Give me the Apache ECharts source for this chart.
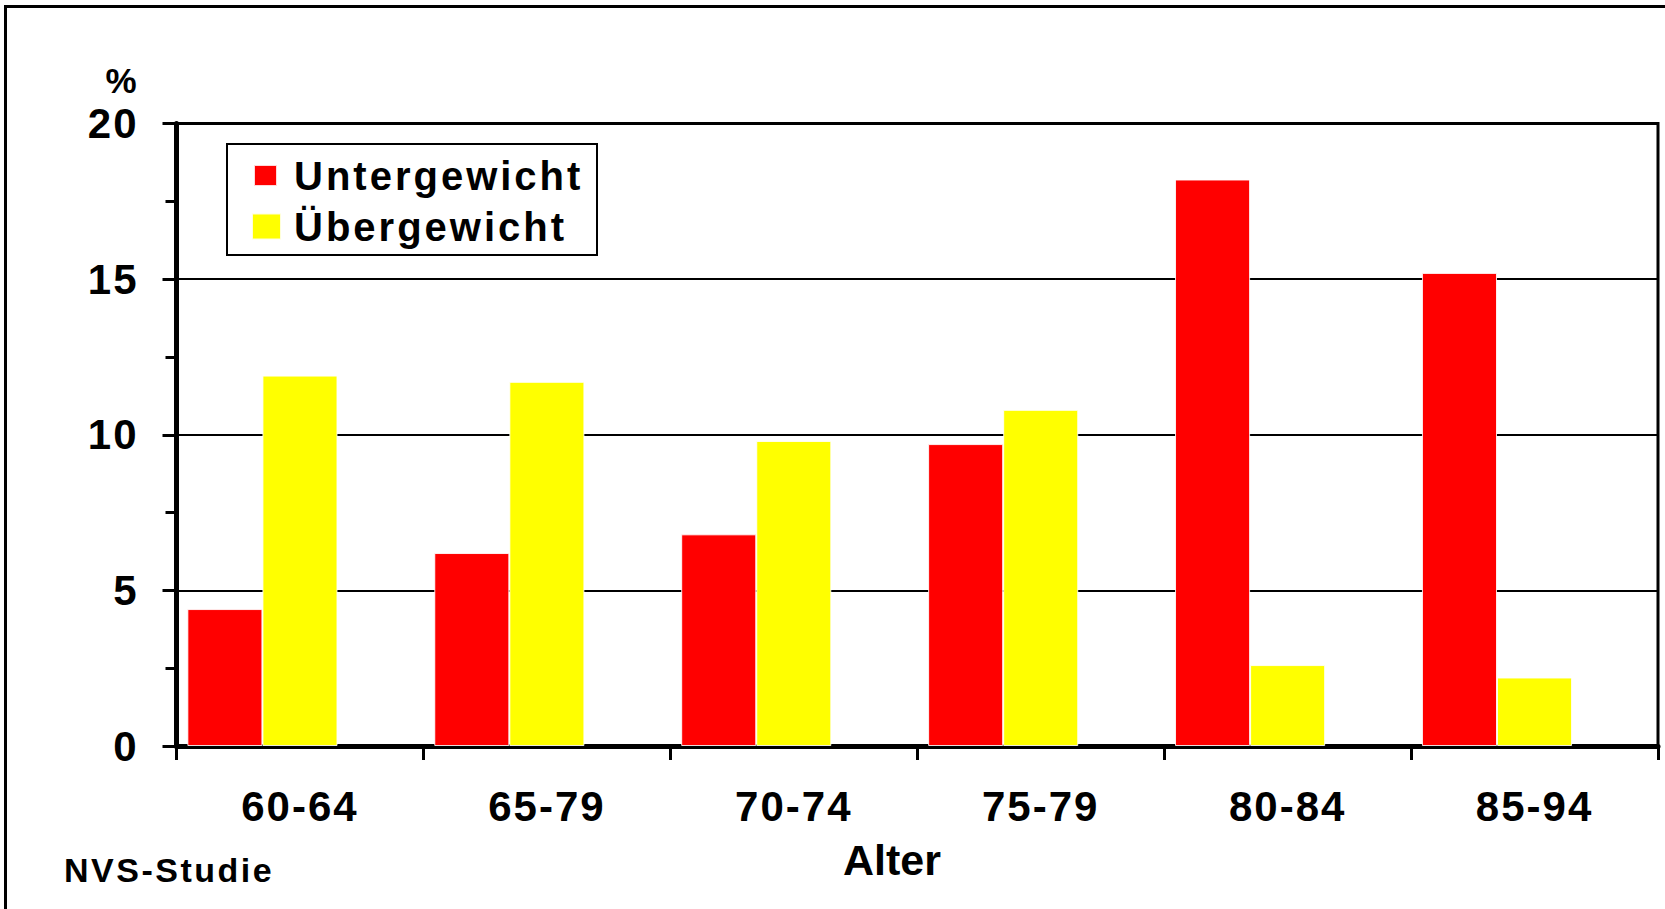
<!DOCTYPE html>
<html>
<head>
<meta charset="utf-8">
<script src="https://cdn.jsdelivr.net/npm/echarts@6/dist/echarts.min.js"></script>
<style>
  html, body { margin: 0; padding: 0; background: #fff; }
  #chart { width: 1665px; height: 909px; }
  /* slightly widened tracking for the bold labels (targeted by their font size) */
  #chart text[style*="42px"] { letter-spacing: 2px; }
  #chart text[style*="40px"] { letter-spacing: 3px; }
  #chart text[style*="34px"] { letter-spacing: 2.5px; }
</style>
</head>
<body>
<div id="chart"></div>
<script>
// Age groups and shares (%) of under- and overweight
const categories = ['60-64', '65-79', '70-74', '75-79', '80-84', '85-94'];
const untergewicht = [4.4, 6.2, 6.8, 9.7, 18.2, 15.2];
const uebergewicht = [11.9, 11.7, 9.8, 10.8, 2.6, 2.2];
// empty slot that keeps the bar pair on the left side of each group
const spacer = [null, null, null, null, null, null];

const yMin = 0, yMax = 20, yStep = 5;

const FONT = "'Liberation Sans', Arial, Helvetica, sans-serif";
const RED = '#FF0000';
const YELLOW = '#FFFF00';

const chart = echarts.init(document.getElementById('chart'), null, { renderer: 'svg' });

const barStyle = color => ({
  color: color,
  borderColor: 'rgba(255,255,255,0.85)',
  borderWidth: 1
});

chart.setOption({
  animation: false,
  backgroundColor: '#fff',
  grid: {
    left: 176.5, right: 7, top: 123.5, bottom: 163,
    show: true, borderColor: '#000', borderWidth: 3,
    containLabel: false, outerBoundsMode: 'none'
  },
  legend: {
    selectedMode: false,
    orient: 'vertical',
    left: 251, top: 155.5, padding: 0,
    itemWidth: 37, itemHeight: 26, itemGap: 11,
    textStyle: { fontFamily: FONT, fontSize: 40, fontWeight: 'bold', color: '#000' },
    data: [
      { name: 'Untergewicht', icon: 'path://M0,0M2,2.5L25,2.5L25,23.5L2,23.5ZM37,26' },
      { name: 'Übergewicht', icon: 'path://M0,0L29,0L29,26L0,26ZM37,26' }
    ]
  },
  xAxis: {
    type: 'category',
    data: categories,
    axisLine: { lineStyle: { color: '#000', width: 5 } },
    axisTick: { show: true, length: 14, lineStyle: { color: '#000', width: 3 } },
    axisLabel: { fontFamily: FONT, fontSize: 42, fontWeight: 'bold', color: '#000', margin: 39 },
    splitLine: { show: false }
  },
  yAxis: {
    type: 'value',
    min: yMin, max: yMax, interval: yStep,
    axisLine: { show: true, lineStyle: { color: '#000', width: 5 } },
    axisTick: { show: true, length: 14, lineStyle: { color: '#000', width: 3 } },
    minorTick: { show: true, splitNumber: 2, length: 11, lineStyle: { color: '#000', width: 3 } },
    axisLabel: { fontFamily: FONT, fontSize: 42, fontWeight: 'bold', color: '#000', margin: 38 },
    splitLine: { show: true, lineStyle: { color: '#000', width: 2 } }
  },
  series: [
    { name: 'Untergewicht', type: 'bar', data: untergewicht, itemStyle: barStyle(RED),
      barGap: '0%', barCategoryGap: '8.8%', emphasis: { disabled: true } },
    { name: 'Übergewicht', type: 'bar', data: uebergewicht, itemStyle: barStyle(YELLOW),
      emphasis: { disabled: true } },
    { name: 'spacer', type: 'bar', data: spacer, silent: true,
      itemStyle: { color: 'rgba(0,0,0,0)' } }
  ],
  graphic: [
    { // outer frame
      type: 'rect', silent: true, z: -1,
      shape: { x: 5.5, y: 6.5, width: 1720, height: 960 },
      style: { fill: 'none', stroke: '#000', lineWidth: 3 }
    },
    { // legend frame
      type: 'rect', silent: true,
      shape: { x: 227, y: 144, width: 370, height: 111 },
      style: { fill: 'none', stroke: '#000', lineWidth: 2 }
    },
    {
      type: 'text', x: 121, y: 80, silent: true,
      style: { text: '%', fontFamily: FONT, fontSize: 35, fontWeight: 'bold', fill: '#000',
        align: 'center', verticalAlign: 'middle', textAlign: 'center', textVerticalAlign: 'middle' }
    },
    {
      type: 'text', x: 892, y: 860, silent: true,
      style: { text: 'Alter', fontFamily: FONT, fontSize: 43, fontWeight: 'bold', fill: '#000',
        align: 'center', verticalAlign: 'middle', textAlign: 'center', textVerticalAlign: 'middle' }
    },
    {
      type: 'text', x: 64, y: 870, silent: true,
      style: { text: 'NVS-Studie', fontFamily: FONT, fontSize: 34, fontWeight: 'bold', fill: '#000',
        align: 'left', verticalAlign: 'middle', textAlign: 'left', textVerticalAlign: 'middle' }
    }
  ]
});
</script>
</body>
</html>
